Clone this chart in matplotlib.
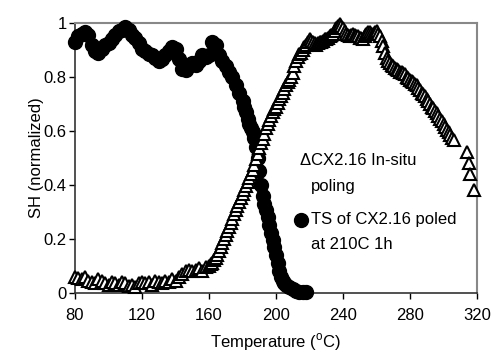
import matplotlib
matplotlib.use("Agg")
import matplotlib.pyplot as plt

plt.rcParams['font.family'] = ['Liberation Sans', 'DejaVu Sans']

# TS of CX2.16 poled at 210C 1h (filled circles)
ts_temp = [80, 82, 84, 86, 88, 90, 92, 94, 96, 98, 100, 102, 104, 106, 108, 110,
           112, 114, 116, 118, 120, 122, 124, 126, 128, 130, 132, 134, 136, 138,
           140, 142, 144, 146, 148, 150, 152, 154, 156, 158, 160, 162, 164, 166,
           168, 170, 172, 174, 176, 178, 180, 181, 182, 183, 184, 185, 186, 187,
           188, 189, 190, 191, 192, 193, 194, 195, 196, 197, 198, 199, 200, 201,
           202, 203, 204, 205, 206, 208, 210, 212, 214, 216, 218]
ts_sh = [0.93, 0.95, 0.96, 0.965, 0.955, 0.92, 0.895, 0.89, 0.905, 0.92, 0.925,
         0.94, 0.955, 0.97, 0.975, 0.985, 0.975, 0.955, 0.945, 0.925, 0.905, 0.895,
         0.885, 0.88, 0.87, 0.86, 0.865, 0.88, 0.895, 0.91, 0.905, 0.865, 0.83,
         0.825, 0.84, 0.85, 0.845, 0.86, 0.88, 0.875, 0.88, 0.93, 0.92, 0.88,
         0.86, 0.84, 0.82, 0.80, 0.77, 0.74, 0.71, 0.69, 0.67, 0.645, 0.625,
         0.61, 0.595, 0.575, 0.54, 0.50, 0.45, 0.40, 0.36, 0.33, 0.305, 0.28,
         0.25, 0.22, 0.195, 0.17, 0.14, 0.11, 0.08, 0.06, 0.045, 0.035, 0.028,
         0.02, 0.012, 0.006, 0.003, 0.002, 0.003]

# CX2.16 In-situ poling (open triangles)
insitu_temp = [80, 82, 84, 86, 88, 90, 92, 94, 96, 98, 100, 102, 104, 106, 108,
               110, 112, 114, 116, 118, 120, 122, 124, 126, 128, 130, 132, 134,
               136, 138, 140, 142, 144, 146, 148, 150, 152, 154, 156, 158,
               160, 161, 162, 163, 164, 165, 166, 167, 168, 169,
               170, 171, 172, 173, 174, 175, 176, 177, 178, 179,
               180, 181, 182, 183, 184, 185, 186, 187, 188, 189,
               190, 191, 192, 193, 194, 195, 196, 197, 198, 199,
               200, 201, 202, 203, 204, 205, 206, 207, 208, 209,
               210, 211, 212, 213, 214, 215, 216, 217, 218, 219,
               220, 221, 222, 223, 224, 225, 226, 227, 228, 229,
               230, 231, 232, 233, 234, 235, 236, 237, 238, 239,
               240, 241, 242, 243, 244, 245, 246, 247, 248, 249,
               250, 251, 252, 253, 254, 255, 256, 257, 258, 259,
               260, 261, 262, 263, 264, 265, 266, 267, 268, 269,
               270, 271, 272, 273, 274, 275, 276, 277, 278, 279,
               280, 281, 282, 283, 284, 285, 286, 287, 288, 289,
               290, 291, 292, 293, 294, 295, 296, 297, 298, 299,
               300, 301, 302, 303, 304, 305, 306,
               314, 315, 316, 318]
insitu_sh = [0.06, 0.055, 0.05, 0.06, 0.045, 0.04, 0.035, 0.05, 0.045, 0.035,
             0.03, 0.04, 0.035, 0.03, 0.04, 0.035, 0.025, 0.03, 0.02, 0.035,
             0.04, 0.035, 0.04, 0.03, 0.045, 0.04, 0.035, 0.045, 0.04, 0.05,
             0.045, 0.06, 0.07, 0.08, 0.085, 0.08, 0.085, 0.09, 0.08, 0.095,
             0.10, 0.105, 0.11, 0.12, 0.13, 0.14, 0.155, 0.17, 0.185, 0.20,
             0.215, 0.23, 0.245, 0.26, 0.275, 0.29, 0.305, 0.32, 0.335, 0.35,
             0.365, 0.38, 0.395, 0.41, 0.425, 0.44, 0.455, 0.475, 0.495, 0.515,
             0.535, 0.555, 0.57, 0.59, 0.61, 0.625, 0.64, 0.655, 0.67, 0.68,
             0.69, 0.705, 0.72, 0.73, 0.74, 0.755, 0.77, 0.78, 0.79, 0.80,
             0.815, 0.84, 0.86, 0.875, 0.885, 0.89, 0.90, 0.91, 0.92, 0.93,
             0.94, 0.935, 0.93, 0.925, 0.92, 0.925, 0.93, 0.93, 0.935, 0.94,
             0.94, 0.945, 0.95, 0.955, 0.96, 0.97, 0.98, 0.99, 0.995, 0.99,
             0.98, 0.97, 0.96, 0.955, 0.95, 0.955, 0.96, 0.955, 0.95, 0.95,
             0.945, 0.945, 0.94, 0.95, 0.96, 0.965, 0.965, 0.96, 0.96, 0.965,
             0.97, 0.96, 0.95, 0.935, 0.915, 0.89, 0.87, 0.86, 0.85, 0.845,
             0.84, 0.835, 0.83, 0.825, 0.82, 0.82, 0.815, 0.81, 0.80, 0.795,
             0.79, 0.785, 0.78, 0.775, 0.77, 0.76, 0.75, 0.74, 0.735, 0.73,
             0.72, 0.71, 0.70, 0.69, 0.685, 0.675, 0.665, 0.655, 0.645, 0.635,
             0.625, 0.615, 0.605, 0.595, 0.585, 0.575, 0.565,
             0.52, 0.48, 0.44, 0.38]

x_ticks = [80, 120, 160, 200, 240, 280, 320]
y_ticks = [0, 0.2, 0.4, 0.6, 0.8, 1.0]
y_ticklabels = ["0", "0.2", "0.4", "0.6", "0.8", "1"]

fig = plt.figure(figsize=(5.01, 3.55), dpi=100)
ax = fig.add_axes([75 / 501, 1 - 292.7 / 355, 402 / 501, 269.7 / 355])

ax.plot(ts_temp, ts_sh, linestyle='none', marker='o', markersize=10,
        markerfacecolor='black', markeredgecolor='black', clip_on=False, zorder=3)
ax.plot(insitu_temp, insitu_sh, linestyle='none', marker='^', markersize=8,
        markerfacecolor='white', markeredgecolor='black', markeredgewidth=1.5,
        clip_on=False, zorder=4)

ax.set_xlim(80, 320)
ax.set_ylim(0, 1)
ax.set_xticks(x_ticks)
ax.set_yticks(y_ticks)
ax.set_yticklabels(y_ticklabels)
ax.tick_params(direction='out', length=4, width=1, labelsize=12, colors='black')
ax.tick_params(axis='x', pad=7)
ax.tick_params(axis='y', pad=2)

for side in ['left', 'bottom']:
    ax.spines[side].set_color('#333333')
    ax.spines[side].set_linewidth(1.2)
for side in ['top', 'right']:
    ax.spines[side].set_color('#888888')
    ax.spines[side].set_linewidth(1.5)

ax.set_xlabel('Temperature (${}^{\\mathregular{o}}$C)', fontsize=12, labelpad=6)
ax.set_ylabel('SH (normalized)', fontsize=12, labelpad=0)

tfs = 12
ax.text(0.587, 0.492, 'Δ', transform=ax.transAxes, fontsize=tfs, va='center', ha='right')
ax.text(0.587, 0.492, 'CX2.16 In-situ', transform=ax.transAxes, fontsize=tfs, va='center', ha='left')
ax.text(0.587, 0.392, 'poling', transform=ax.transAxes, fontsize=tfs, va='center', ha='left')
ax.plot([0.562], [0.270], transform=ax.transAxes, marker='o', markersize=10,
        color='black', linestyle='none', clip_on=False)
ax.text(0.587, 0.270, 'TS of CX2.16 poled', transform=ax.transAxes, fontsize=tfs, va='center', ha='left')
ax.text(0.587, 0.177, 'at 210C 1h', transform=ax.transAxes, fontsize=tfs, va='center', ha='left')

fig.savefig('out.png', dpi=100)
